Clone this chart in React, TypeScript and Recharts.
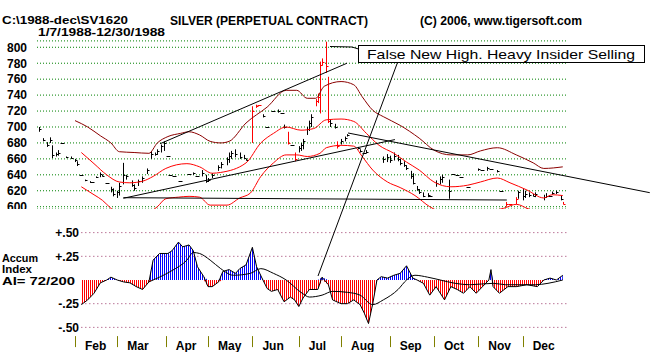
import React from 'react';
import { ComposedChart, Bar, Line, Area, XAxis, YAxis, CartesianGrid, ReferenceLine } from 'recharts';

const FONT = "'Liberation Sans', Arial, sans-serif";

// ---- price bars (trading-day index from 1/7/1988) ----
const barDays = [0,2,4,5,6,8,9,11,13,15,17,18,20,22,24,25,27,29,30,32,34,35,37,38,40,41,44,45,47,49,51,53,55,56,58,59,61,62,64,67,71,73,75,77,79,80,82,85,86,89,90,91,93,95,97,98,101,103,104,106,108,111,113,115,116,118,120,121,123,124,125,127,128,129,131,132,133,134,136,137,138,140,141,143,145,146,151,152,154,155,163,165,166,168,170,171,173,174,176,177,179,180,182,184,185,188,190,191,194,196,198,200,203,208,210,212,214,217,219,221,223,226,227,229,230,232,234,235,239,240,242,243,245,247,248];
const barHighs = [700,686,681,687,677,668,671,680,663,663,660,657,640,634,632,631,638,643,640,630,625,623,620,630,655,640,633,628,634,638,648,670,668,672,678,682,664,640,638,632,641,643,638,646,640,636,642,652,656,662,668,670,672,668,665,660,726,728,727,716,700,720,722,718,703,694,677,668,676,680,685,700,708,716,735,742,782,786,807,763,710,704,682,685,688,691,675,672,668,671,663,666,664,668,665,660,657,652,645,642,626,622,618,617,614,633,638,640,634,641,640,637,625,648,646,650,647,646,620,606,603,612,620,622,620,618,616,618,615,617,614,619,620,614,606];
const barLows = [694,682,675,680,661,663,664,680,661,660,656,651,640,632,630,631,636,637,638,630,618,613,611,614,628,634,625,620,626,630,641,660,664,665,668,670,664,640,638,632,641,640,638,638,630,631,636,645,648,652,655,660,662,660,660,658,680,724,727,712,700,720,718,718,698,678,677,657,668,670,672,690,695,700,726,730,717,777,768,705,700,698,673,678,682,688,672,668,668,667,655,656,655,658,657,652,650,646,635,628,620,616,612,612,614,625,628,630,610,641,640,637,625,645,646,645,647,643,620,600,603,603,610,608,611,612,613,612,608,611,614,615,616,608,603];
const barCloses = [697,684,678,684,665,666,668,680,662,661,658,653,640,633,631,631,637,641,639,630,622,616,618,626,640,638,627,624,632,636,646,666,666,670,676,680,664,640,638,632,641,642,638,642,632,634,640,650,654,660,664,668,666,662,661,659,720,726,727,714,700,720,720,718,700,680,677,660,674,678,683,698,705,712,732,738,778,782,776,708,705,700,676,682,686,690,674,670,668,669,660,662,658,664,660,655,652,648,638,630,622,618,614,615,614,630,635,637,620,641,640,637,625,647,646,648,647,645,620,604,603,610,618,614,616,615,614,616,612,614,614,617,618,610,604];
const redBarDays = [101,103,104,118,121,131,132,133,134,136,137,141,221,223,226,248];

const priceTicks = [600,620,640,660,680,700,720,740,760,780,800];

// ---- bands ----
const upperDays = [17,23,29,34,38,45,52,56,61,67,71,76,81,86,90,98,108,117,122,127,131,135,143,149,153,158,163,171,180,187,195,203,209,217,226,234,239,248];
const upperVals = [708,700,689,680,669,668,667,680,688,692,694,690,682,680,682,705,725,746,746,736,736,751,757,753,738,721,713,702,686,671,665,665,670,674,665,655,648,650];
const midDays = [20,26,32,38,43,49,54,60,70,76,82,86,98,105,111,117,124,130,136,143,149,155,161,168,174,180,187,195,203,209,217,223,231,239,243,248];
const midVals = [668,654,640,631,630,632,638,648,654,650,642,643,655,680,692,700,696,698,709,710,707,692,677,667,656,646,631,625,627,631,636,630,621,611,615,614];
const lowerDays = [20,26,30,34,38,44,50,56,60,66,71,76,81,89,95,100,105,111,117,122,127,133,136,143,149,153,158,165,171,178,185,192,200,210,220,226,232,240,248];
const lowerVals = [625,615,608,598,590,586,590,600,610,612,613,612,602,602,611,617,638,655,665,665,663,667,674,677,676,663,646,631,624,614,600,592,590,593,598,603,597,592,594];

// ---- trend lines (day, price) ----
const trendStartDays = [57.3, 39.9, 146.3, 39.9];
const trendStartPrices = [679, 610.6, 692.5, 611.3];
const trendEndDays = [145.8, 168.5, 289.2, 221.5];
const trendEndPrices = [780, 684.2, 617.6, 608.4];

// ---- months ----
const monthStarts = [17,37,60,80,101,123,143,166,187,208,229];
const monthLabels = ['Feb','Mar','Apr','May','Jun','Jul','Aug','Sep','Oct','Nov','Dec'];

// ---- accumulation index ----
const aiDays = [20,23,26,29,32,34,37,40,43,46,49,52,54,57,61,63,66,68,71,73,75,78,80,82,85,87,90,93,95,98,101,103,106,108,110,113,116,119,121,123,125,128,132,134,137,139,143,146,149,152,154,156,158,160,162,165,168,171,174,177,179,182,185,188,192,195,198,201,204,207,210,213,214,215,218,222,226,231,236,239,242,245,248];
const aiValues = [-0.26,-0.21,-0.14,-0.03,0,0.03,0,-0.02,-0.03,-0.07,-0.1,-0.02,0.21,0.28,0.28,0.31,0.4,0.35,0.37,0.31,0.14,0.035,-0.07,-0.07,-0.02,0.09,0.11,0.07,0.12,0.16,0.345,0.14,0,-0.09,-0.12,-0.1,-0.23,-0.18,-0.21,-0.28,-0.19,-0.1,-0.1,0.03,-0.05,-0.21,-0.25,-0.25,-0.21,-0.26,-0.35,-0.46,-0.25,0,0.035,0.02,0.05,0.07,0.15,0.02,0,-0.035,-0.16,-0.07,-0.21,-0.07,-0.1,-0.14,-0.07,-0.14,-0.07,0,0.11,-0.07,-0.14,-0.07,-0.07,-0.05,-0.07,0,0.02,0,0.05];
const maDays = [52,57,63,70,73,76,81,86,92,100,105,111,117,124,128,134,139,146,152,158,163,170,174,178,184,190,197,204,215,221,227,235,241,248];
const maValues = [-0.02,0.03,0.1,0.21,0.29,0.28,0.21,0.12,0.05,0.07,0.12,0.07,0,-0.13,-0.18,-0.16,-0.12,-0.13,-0.16,-0.26,-0.21,-0.1,0,0.05,0.03,0,-0.035,-0.05,-0.035,-0.05,-0.05,-0.05,-0.035,0];
const aiTicks = [-0.5, -0.25, 0.25, 0.5];
const aiTickLabels = ['-.50', '-.25', '+.25', '+.50'];

// ---- derived tables ----
const barRows = barDays.map((t, i) => ({
  t,
  range: [barLows[i], barHighs[i]],
  close: barCloses[i],
  red: redBarDays.includes(t),
}));
const upperRows = upperDays.map((t, i) => ({ t, v: upperVals[i] }));
const midRows = midDays.map((t, i) => ({ t, v: midVals[i] }));
const lowerRows = lowerDays.map((t, i) => ({ t, v: lowerVals[i] }));
const aiRows = aiDays.map((t, i) => ({ t, v: aiValues[i], pos: Math.max(aiValues[i], 0), neg: Math.min(aiValues[i], 0) }));
const maRows = maDays.map((t, i) => ({ t, v: maValues[i] }));

const X_DOMAIN: [number, number] = [-1, 250];

const PriceBar = (props: any) => {
  const { x, y, width, height, payload } = props;
  if (x == null || y == null || !payload) return null;
  const cx = Math.round(x + width / 2) + 0.5;
  const top = Math.min(y, y + (height || 0));
  const h = Math.abs(height || 0);
  const [lo, hi] = payload.range;
  const color = payload.red ? '#ff0000' : '#000000';
  if (h < 1) {
    const yy = Math.round(top) + 0.5;
    return <line x1={cx - 2} x2={cx + 2} y1={yy} y2={yy} stroke={color} strokeWidth={1} />;
  }
  const yc = Math.round(top + ((hi - payload.close) / (hi - lo)) * h) + 0.5;
  return (
    <g>
      <line x1={cx} x2={cx} y1={top} y2={top + h} stroke={color} strokeWidth={1} />
      <line x1={cx} x2={cx + 2} y1={yc} y2={yc} stroke={color} strokeWidth={1} />
    </g>
  );
};

const PriceTick = (props: any) => {
  const { y, payload } = props;
  return (
    <text x={27} y={y + 4.3} textAnchor="end" fontFamily={FONT} fontWeight="bold" fontSize={12} fill="#000">
      {payload.value}
    </text>
  );
};

const AiTick = (props: any) => {
  const { y, payload } = props;
  const i = aiTicks.indexOf(payload.value);
  return (
    <text x={79} y={y + 4.3} textAnchor="end" fontFamily={FONT} fontWeight="bold" fontSize={12} fill="#000">
      {aiTickLabels[i]}
    </text>
  );
};

const MonthTick = (props: any) => {
  const { x, y, payload } = props;
  const i = monthStarts.indexOf(payload.value);
  const lx = Math.round(x) + 0.5;
  return (
    <g>
      <line x1={lx} x2={lx} y1={y + 4} y2={y + 15} stroke="#808000" strokeWidth={1} />
      <text x={x + 10} y={y + 18} textAnchor="start" fontFamily={FONT} fontWeight="bold" fontSize={12} fill="#000">
        {monthLabels[i]}
      </text>
    </g>
  );
};

export default function App() {
  return (
    <div style={{ position: 'absolute', left: 0, top: 0, width: 651, height: 352, background: '#ffffff', overflow: 'hidden' }}>
      {/* Price panel */}
      <div style={{ position: 'absolute', left: 0, top: 0, width: 651, height: 209, overflow: 'hidden' }}>
        <ComposedChart width={651} height={212} data={barRows} margin={{ top: 40.9, right: 84, bottom: 2.9, left: 0 }}>
          <XAxis type="number" dataKey="t" domain={X_DOMAIN} hide allowDataOverflow />
          <YAxis
            type="number"
            domain={[597, 808]}
            ticks={priceTicks}
            interval={0}
            width={37}
            axisLine={false}
            tickLine={false}
            tick={PriceTick}
            allowDataOverflow
          />
          <CartesianGrid vertical={false} stroke="#008000" strokeDasharray="1 2" />
          <Line data={upperRows} dataKey="v" type="monotone" stroke="#8b0000" strokeWidth={1} dot={false} isAnimationActive={false} />
          <Line data={midRows} dataKey="v" type="monotone" stroke="#ff0000" strokeWidth={1} dot={false} isAnimationActive={false} />
          <Line data={lowerRows} dataKey="v" type="monotone" stroke="#ff0000" strokeWidth={1} dot={false} isAnimationActive={false} />
          {trendStartDays.map((d, i) => (
            <ReferenceLine
              key={i}
              segment={[{ x: d, y: trendStartPrices[i] }, { x: trendEndDays[i], y: trendEndPrices[i] }]}
              stroke="#000"
              strokeWidth={1}
              ifOverflow="visible"
            />
          ))}
          <Bar dataKey="range" barSize={3} shape={PriceBar} isAnimationActive={false} />
        </ComposedChart>
      </div>

      {/* Accumulation index panel */}
      <div style={{ position: 'absolute', left: 0, top: 212, width: 651, height: 140 }}>
        <ComposedChart width={651} height={140} data={aiRows} margin={{ top: 15.9, right: 84, bottom: 0, left: 0 }}>
          <defs>
            <pattern id="stripeBlue" patternUnits="userSpaceOnUse" width={2} height={4}>
              <rect x={0} y={0} width={1} height={4} fill="#0000ff" />
            </pattern>
            <pattern id="stripeRed" patternUnits="userSpaceOnUse" width={2} height={4}>
              <rect x={0} y={0} width={1} height={4} fill="#ff0000" />
            </pattern>
          </defs>
          <XAxis
            type="number"
            dataKey="t"
            domain={X_DOMAIN}
            ticks={monthStarts}
            interval={0}
            height={19.9}
            axisLine={false}
            tickLine={false}
            tickSize={0}
            tickMargin={0}
            tick={MonthTick}
            allowDataOverflow
          />
          <YAxis
            type="number"
            domain={[-0.55, 0.55]}
            ticks={aiTicks}
            interval={0}
            width={37}
            axisLine={false}
            tickLine={false}
            tick={AiTick}
            allowDataOverflow
          />
          {aiTicks.map((v) => (
            <ReferenceLine
              key={v}
              segment={[{ x: aiDays[0], y: v }, { x: X_DOMAIN[1], y: v }]}
              stroke="#993366"
              strokeDasharray="1 3"
            />
          ))}
          <Area dataKey="pos" type="linear" baseValue={0} stroke="none" fill="url(#stripeBlue)" fillOpacity={1} isAnimationActive={false} />
          <Area dataKey="neg" type="linear" baseValue={0} stroke="none" fill="url(#stripeRed)" fillOpacity={1} isAnimationActive={false} />
          <Line dataKey="v" type="linear" stroke="#000" strokeWidth={1} dot={false} isAnimationActive={false} />
          <Line data={maRows} dataKey="v" type="monotone" stroke="#000" strokeWidth={1} dot={false} isAnimationActive={false} />
        </ComposedChart>
      </div>

      {/* Titles and annotation */}
      <svg width={651} height={352} style={{ position: 'absolute', left: 0, top: 0, pointerEvents: 'none' }}>
        <g fontFamily={FONT} fontWeight="bold" fill="#000">
          <text x={2} y={23.8} fontSize={11} textLength={126} lengthAdjust="spacingAndGlyphs">{'C:\\1988-dec\\SV1620'}</text>
          <text x={38} y={36.2} fontSize={11} textLength={127} lengthAdjust="spacingAndGlyphs">1/7/1988-12/30/1988</text>
          <text x={170} y={25} fontSize={12} textLength={198} lengthAdjust="spacingAndGlyphs">SILVER (PERPETUAL CONTRACT)</text>
          <text x={420} y={25} fontSize={12} textLength={162} lengthAdjust="spacingAndGlyphs">(C) 2006, www.tigersoft.com</text>
          <text x={2} y={262} fontSize={10} textLength={36} lengthAdjust="spacingAndGlyphs">Accum</text>
          <text x={2} y={273.3} fontSize={10} textLength={30} lengthAdjust="spacingAndGlyphs">Index</text>
          <text x={2} y={284.5} fontSize={10} textLength={73} lengthAdjust="spacingAndGlyphs">AI= 72/200</text>
        </g>
        <polyline points="330,46.5 352,47 358.5,49" fill="none" stroke="#000" strokeWidth={1} />
        <line x1={397.5} y1={62.5} x2={318} y2={276} stroke="#000" strokeWidth={1} />
        <rect x={358.5} y={45.5} width={286} height={17} fill="#fff" stroke="#000" strokeWidth={1} />
        <text x={367} y={58.5} fontFamily={FONT} fontSize={13} fill="#000" textLength={268} lengthAdjust="spacingAndGlyphs">
          False New High.  Heavy Insider Selling
        </text>
      </svg>
    </div>
  );
}
